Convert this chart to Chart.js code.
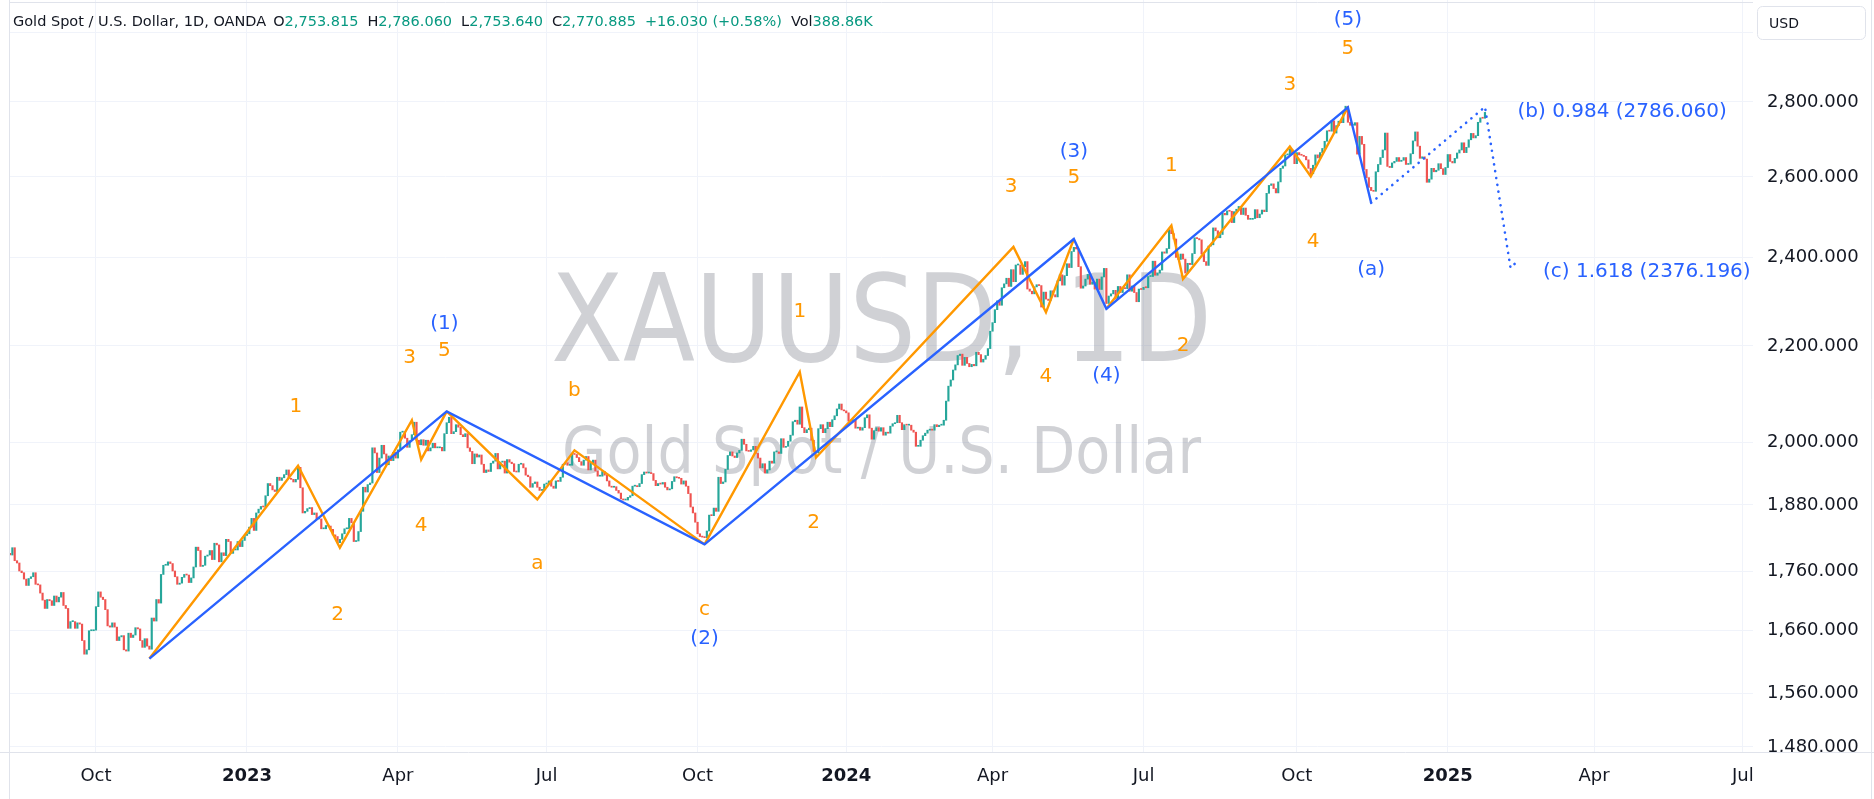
<!DOCTYPE html>
<html>
<head>
<meta charset="utf-8">
<title>Gold Spot / U.S. Dollar, 1D</title>
<script src="https://cdn.jsdelivr.net/npm/chart.js@4.4.1/dist/chart.umd.min.js"></script>
<style>
  html, body { margin: 0; padding: 0; background: #ffffff; }
  #wrap { width: 1874px; height: 799px; }
</style>
</head>
<body>
<div id="wrap"><canvas id="goldChart" width="1874" height="799"></canvas></div>
<script>
// ---- data -------------------------------------------------------------
// daily closes, one inner array per month (trading days only)
const firstDay = '2022-08-08';
const lastCalendarDay = '2025-07-31';
const closedDays = ['2023-04-07', '2024-03-29', '2025-04-18']; // Good Fridays (plus weekends, Dec 25, Jan 1)

const closes2022 = [
  [1789, 1794, 1792, 1789, 1802, 1779, 1775, 1761, 1758, 1747, 1736, 1748, 1751, 1758, 1738, 1737, 1723, 1711],
  [1697, 1712, 1710, 1702, 1718, 1708, 1716, 1724, 1702, 1697, 1664, 1675, 1675, 1664, 1673, 1671, 1644, 1622, 1629, 1660, 1660, 1661],
  [1700, 1725, 1716, 1712, 1695, 1668, 1666, 1673, 1666, 1644, 1650, 1652, 1629, 1627, 1656, 1649, 1653, 1665, 1663, 1644, 1633],
  [1647, 1635, 1630, 1681, 1676, 1712, 1706, 1755, 1771, 1771, 1777, 1774, 1761, 1751, 1738, 1740, 1750, 1755, 1754, 1741, 1749, 1768],
  [1803, 1797, 1769, 1771, 1787, 1789, 1797, 1781, 1810, 1807, 1777, 1793, 1788, 1817, 1813, 1792, 1798, 1798, 1813, 1804, 1815, 1824]
];
const closes2023 = [
  [1827, 1839, 1855, 1833, 1865, 1872, 1877, 1876, 1897, 1920, 1916, 1908, 1905, 1932, 1926, 1931, 1937, 1946, 1930, 1928, 1923, 1928],
  [1951, 1912, 1865, 1868, 1873, 1875, 1862, 1865, 1854, 1854, 1836, 1836, 1842, 1841, 1835, 1825, 1822, 1811, 1817, 1827],
  [1836, 1836, 1855, 1847, 1813, 1814, 1831, 1868, 1913, 1904, 1918, 1921, 1989, 1979, 1941, 1969, 1994, 1977, 1956, 1973, 1964, 1980, 1969],
  [1985, 2020, 2021, 2008, 1990, 2003, 2015, 2040, 2004, 1995, 2005, 1994, 2004, 1983, 1989, 1998, 1989, 1989, 1990],
  [1983, 2017, 2039, 2050, 2017, 2021, 2035, 2030, 2015, 2011, 2017, 1989, 1982, 1958, 1977, 1971, 1975, 1957, 1941, 1946, 1943, 1959, 1963],
  [1978, 1948, 1961, 1963, 1940, 1966, 1961, 1958, 1943, 1942, 1957, 1958, 1950, 1936, 1933, 1913, 1920, 1923, 1913, 1907, 1908, 1919],
  [1921, 1925, 1915, 1911, 1925, 1924, 1932, 1957, 1960, 1955, 1955, 1978, 1976, 1970, 1962, 1955, 1965, 1972, 1946, 1959, 1965],
  [1944, 1934, 1934, 1943, 1936, 1925, 1915, 1913, 1914, 1907, 1902, 1891, 1889, 1889, 1894, 1897, 1915, 1916, 1914, 1920, 1937, 1942, 1940],
  [1940, 1939, 1926, 1916, 1920, 1919, 1922, 1913, 1908, 1910, 1924, 1933, 1931, 1930, 1919, 1925, 1915, 1901, 1876, 1865, 1848],
  [1827, 1822, 1821, 1820, 1832, 1861, 1860, 1874, 1868, 1932, 1920, 1923, 1947, 1974, 1981, 1973, 1970, 1979, 1984, 2006, 1996, 1983],
  [1982, 1985, 1992, 1978, 1969, 1950, 1958, 1940, 1946, 1963, 1959, 1981, 1981, 1978, 2007, 1990, 1992, 2002, 2014, 2041, 2044, 2036],
  [2071, 2029, 2019, 2025, 2028, 2004, 1982, 1979, 2027, 2035, 2019, 2027, 2040, 2031, 2045, 2053, 2067, 2077, 2065, 2063]
];
const closes2024 = [
  [2059, 2042, 2043, 2045, 2028, 2030, 2024, 2029, 2049, 2055, 2028, 2006, 2023, 2029, 2022, 2029, 2014, 2020, 2018, 2032, 2037, 2039],
  [2054, 2039, 2025, 2035, 2034, 2034, 2024, 2020, 1992, 1992, 2004, 2013, 2018, 2024, 2025, 2024, 2035, 2031, 2034, 2034, 2044],
  [2083, 2114, 2127, 2148, 2159, 2179, 2182, 2158, 2175, 2162, 2155, 2160, 2157, 2186, 2181, 2165, 2171, 2179, 2194, 2232],
  [2251, 2280, 2300, 2290, 2330, 2339, 2352, 2333, 2372, 2344, 2383, 2383, 2361, 2379, 2391, 2327, 2322, 2316, 2332, 2337, 2335, 2286],
  [2320, 2304, 2301, 2323, 2314, 2309, 2346, 2360, 2336, 2358, 2386, 2377, 2415, 2425, 2421, 2379, 2329, 2334, 2350, 2361, 2338, 2343, 2327],
  [2350, 2326, 2355, 2375, 2294, 2311, 2316, 2324, 2304, 2333, 2319, 2330, 2328, 2360, 2322, 2334, 2319, 2298, 2327, 2326],
  [2331, 2330, 2356, 2356, 2392, 2359, 2364, 2371, 2414, 2411, 2422, 2468, 2458, 2445, 2401, 2396, 2409, 2397, 2364, 2387, 2384, 2410, 2448],
  [2446, 2443, 2409, 2391, 2382, 2428, 2431, 2472, 2465, 2448, 2456, 2508, 2504, 2514, 2513, 2485, 2512, 2518, 2525, 2505, 2521, 2503],
  [2493, 2493, 2495, 2517, 2497, 2506, 2516, 2512, 2558, 2578, 2582, 2570, 2559, 2587, 2622, 2628, 2657, 2657, 2672, 2658, 2634],
  [2663, 2657, 2656, 2653, 2644, 2622, 2608, 2630, 2657, 2649, 2663, 2674, 2693, 2721, 2720, 2748, 2715, 2735, 2747, 2743, 2774, 2788, 2744],
  [2736, 2736, 2743, 2659, 2706, 2685, 2619, 2598, 2573, 2565, 2563, 2613, 2632, 2650, 2670, 2715, 2627, 2624, 2636, 2640, 2650],
  [2640, 2643, 2650, 2632, 2633, 2660, 2694, 2718, 2680, 2648, 2652, 2646, 2586, 2594, 2622, 2613, 2617, 2634, 2621, 2606, 2624]
];
const closes2025 = [
  [2658, 2640, 2636, 2648, 2662, 2670, 2689, 2663, 2677, 2697, 2714, 2702, 2708, 2744, 2756, 2755, 2771]
];

// Elliott wave pivots: [date, price]
const blueWave = [
  ['2022-11-03', 1615], ['2023-05-03', 2062], ['2023-10-05', 1808], ['2024-05-20', 2445],
  ['2024-06-07', 2282], ['2024-10-31', 2785], ['2024-11-14', 2534]
];
const orangeWave1 = [
  ['2022-11-03', 1615], ['2023-02-01', 1954], ['2023-02-27', 1802], ['2023-04-12', 2044],
  ['2023-04-18', 1966], ['2023-05-03', 2062]
];
const orangeWaveABC = [
  ['2023-05-03', 2062], ['2023-06-27', 1890], ['2023-07-19', 1984], ['2023-10-05', 1808]
];
const orangeWave3 = [
  ['2023-10-05', 1808], ['2023-12-01', 2144], ['2023-12-12', 1970], ['2024-04-12', 2426],
  ['2024-05-02', 2274], ['2024-05-20', 2445]
];
const orangeWave5 = [
  ['2024-06-07', 2282], ['2024-07-17', 2478], ['2024-07-24', 2350], ['2024-09-26', 2679],
  ['2024-10-09', 2601], ['2024-10-31', 2785]
];
const projection = [
  ['2024-11-14', 2534], ['2025-01-24', 2786.06], ['2025-02-10', 2376.196], ['2025-02-13', 2392]
];

// wave labels: [text, date, price, colour]
const waveLabels = [
  ['1', '2023-01-31', 2075, 'orange'], ['2', '2023-02-24', 1690, 'orange'],
  ['3', '2023-04-11', 2177, 'orange'], ['4', '2023-04-18', 1844, 'orange'],
  ['5', '2023-05-02', 2194, 'orange'], ['(1)', '2023-05-02', 2252, 'blue'],
  ['a', '2023-06-27', 1776, 'orange'], ['b', '2023-07-19', 2109, 'orange'],
  ['c', '2023-10-05', 1697, 'orange'], ['(2)', '2023-10-05', 1649, 'blue'],
  ['1', '2023-12-01', 2279, 'orange'], ['2', '2023-12-11', 1851, 'orange'],
  ['3', '2024-04-11', 2578, 'orange'], ['4', '2024-05-02', 2137, 'orange'],
  ['5', '2024-05-20', 2601, 'orange'], ['(3)', '2024-05-20', 2669, 'blue'],
  ['(4)', '2024-06-07', 2140, 'blue'],
  ['1', '2024-07-17', 2634, 'orange'], ['2', '2024-07-24', 2205, 'orange'],
  ['3', '2024-09-26', 2852, 'orange'], ['4', '2024-10-10', 2443, 'orange'],
  ['5', '2024-10-31', 2957, 'orange'], ['(5)', '2024-10-31', 3042, 'blue'],
  ['(a)', '2024-11-14', 2377, 'blue']
];
const fibLabels = [
  ['(b) 0.984 (2786.060)', '2025-02-13', 2778],
  ['(c) 1.618 (2376.196)', '2025-02-28', 2372]
];

const priceTicks = [1480, 1560, 1660, 1760, 1880, 2000, 2200, 2400, 2600, 2800, 3000];
const legendLetters = ['O', 'H', 'L', 'C'];
const legendValues = [2753.815, 2786.060, 2753.640, 2770.885];
const legendChange = '+16.030 (+0.58%)';
const legendVolume = '388.86K';

// ---- calendar ---------------------------------------------------------
const monthNames = ['Jan', 'Feb', 'Mar', 'Apr', 'May', 'Jun', 'Jul', 'Aug', 'Sep', 'Oct', 'Nov', 'Dec'];

function tradingDays(year, month) {
  const out = [];
  const d = new Date(Date.UTC(year, month, 1));
  while (d.getUTCMonth() === month) {
    const key = d.toISOString().slice(0, 10);
    const wd = d.getUTCDay();
    const md = key.slice(5);
    if (wd !== 0 && wd !== 6 && md !== '12-25' && md !== '01-01' && !closedDays.includes(key) && key >= firstDay && key <= lastCalendarDay) {
      out.push(key);
    }
    d.setUTCDate(d.getUTCDate() + 1);
  }
  return out;
}

const months = [];
for (let y = 2022, m = 7; y < 2025 || (y === 2025 && m <= 6); ) {
  months.push({ year: y, month: m, days: tradingDays(y, m) });
  m++; if (m > 11) { m = 0; y++; }
}
const dayIndex = {};
let counter = 0;
months.forEach(mo => mo.days.forEach(day => { dayIndex[day] = counter++; }));

// ---- candles ----------------------------------------------------------
const monthlyCloses = [...closes2022, ...closes2023, ...closes2024, ...closes2025];
const candles = [];
let prevClose = null;
monthlyCloses.forEach((vals, k) => {
  vals.forEach((close, j) => {
    const day = months[k].days[j];
    const open = prevClose === null ? close : prevClose;
    candles.push({ x: dayIndex[day], y: [open, close], up: close >= open });
    prevClose = close;
  });
});

const upColor = '#26a69a';
const downColor = '#ef5350';
const orange = '#ff9800';
const blue = '#2962ff';
const gridColor = '#f0f3fa';
const textColor = '#131722';

const toPoints = arr => arr.map(([d, p]) => ({ x: dayIndex[d], y: p }));

// month ticks (quarters) for the time axis
const xMin = 2.98, xMax = 753.4;
const timeTicks = [];
months.forEach(mo => {
  if (mo.month % 3 === 0 && mo.days.length) {
    const idx = dayIndex[mo.days[0]];
    if (idx >= xMin && idx <= xMax) {
      timeTicks.push({ value: idx, label: mo.month === 0 ? String(mo.year) : monthNames[mo.month], year: mo.month === 0 });
    }
  }
});

// ---- plugins ----------------------------------------------------------
const watermark = {
  id: 'watermark',
  beforeDatasetsDraw(chart) {
    const { ctx, chartArea: a } = chart;
    const cx = (a.left + a.right) / 2;
    const drawFit = (text, size, baseline, width) => {
      ctx.font = size + 'px "DejaVu Sans"';
      const w = ctx.measureText(text).width;
      ctx.save();
      ctx.translate(cx, baseline);
      ctx.scale(width / w, 1);
      ctx.fillText(text, 0, 0);
      ctx.restore();
    };
    ctx.save();
    ctx.fillStyle = 'rgba(120, 123, 134, 0.35)';
    ctx.textAlign = 'center';
    ctx.textBaseline = 'alphabetic';
    drawFit('XAUUSD, 1D', 121, 361, 661);
    drawFit('Gold Spot / U.S. Dollar', 64, 473, 639);
    ctx.restore();
  }
};

const waveText = {
  id: 'waveText',
  afterDatasetsDraw(chart) {
    const { ctx, scales: { x, y } } = chart;
    ctx.save();
    ctx.font = '20px "DejaVu Sans"';
    ctx.textBaseline = 'alphabetic';
    ctx.textAlign = 'center';
    waveLabels.forEach(([text, date, price, tone]) => {
      ctx.fillStyle = tone === 'blue' ? blue : orange;
      ctx.fillText(text, x.getPixelForValue(dayIndex[date]), y.getPixelForValue(price) + 7);
    });
    ctx.textAlign = 'left';
    ctx.fillStyle = blue;
    fibLabels.forEach(([text, date, price]) => {
      ctx.fillText(text, x.getPixelForValue(dayIndex[date]), y.getPixelForValue(price) + 7);
    });
    ctx.restore();
  }
};

const frame = {
  id: 'frame',
  afterDraw(chart) {
    const { ctx, chartArea: a, width, height } = chart;
    ctx.save();
    // time axis labels are clipped by the price scale
    ctx.fillStyle = '#ffffff';
    ctx.fillRect(a.right, a.bottom + 1, width - a.right, height - a.bottom);
    ctx.strokeStyle = '#e0e3eb';
    ctx.lineWidth = 1;
    ctx.beginPath();
    ctx.moveTo(0, a.bottom + 0.5); ctx.lineTo(width, a.bottom + 0.5);
    ctx.moveTo(a.left - 0.5, 0); ctx.lineTo(a.left - 0.5, height);
    ctx.moveTo(width - 2.5, 0); ctx.lineTo(width - 2.5, height);
    ctx.moveTo(a.left, 2.5); ctx.lineTo(a.right, 2.5);
    ctx.stroke();

    // legend line
    ctx.font = '14.5px "DejaVu Sans"';
    ctx.textBaseline = 'alphabetic';
    ctx.textAlign = 'left';
    let lx = 13;
    const seg = (text, color, gap) => {
      ctx.fillStyle = color;
      ctx.fillText(text, lx, 26);
      lx += ctx.measureText(text).width + gap;
    };
    seg('Gold Spot / U.S. Dollar, 1D, OANDA', textColor, 7);
    legendLetters.forEach((letter, i) => {
      seg(letter, textColor, 0);
      seg(legendValues[i].toLocaleString('en-US', { minimumFractionDigits: 3 }), '#089981', 9);
    });
    seg(legendChange, '#089981', 9);
    seg('Vol', textColor, 0);
    seg(legendVolume, '#089981', 0);

    // currency box
    ctx.beginPath();
    ctx.roundRect(1757.5, 6.5, 108, 33, 5);
    ctx.fillStyle = '#ffffff';
    ctx.fill();
    ctx.strokeStyle = '#e0e3eb';
    ctx.stroke();
    ctx.fillStyle = textColor;
    ctx.font = '14px "DejaVu Sans"';
    ctx.fillText('USD', 1769, 28);
    ctx.restore();
  }
};

// ---- chart ------------------------------------------------------------
Chart.defaults.font.family = '"DejaVu Sans", sans-serif';

const lineSet = (pts, color, order) => ({
  type: 'line',
  data: toPoints(pts),
  borderColor: color,
  borderWidth: 2.4,
  pointRadius: 0,
  fill: false,
  tension: 0,
  order: order
});

new Chart(document.getElementById('goldChart'), {
  type: 'bar',
  data: {
    datasets: [
      {
        type: 'bar',
        data: candles.map(c => ({ x: c.x, y: c.y })),
        backgroundColor: candles.map(c => c.up ? upColor : downColor),
        borderWidth: 0,
        barThickness: 1.5,
        minBarLength: 1,
        grouped: false,
        order: 10
      },
      lineSet(orangeWave1, orange, 3),
      lineSet(orangeWaveABC, orange, 3),
      lineSet(orangeWave3, orange, 3),
      lineSet(orangeWave5, orange, 3),
      lineSet(blueWave, blue, 2),
      Object.assign(lineSet(projection, blue, 1), {
        borderWidth: 2.6,
        borderDash: [0.1, 6.8],
        borderCapStyle: 'round'
      })
    ]
  },
  options: {
    responsive: false,
    animation: false,
    devicePixelRatio: 1,
    layout: { padding: { left: 10, top: 0, right: 0, bottom: 0 } },
    plugins: { legend: { display: false }, tooltip: { enabled: false } },
    scales: {
      x: {
        type: 'linear',
        min: xMin,
        max: xMax,
        offset: false,
        afterBuildTicks: s => { s.ticks = timeTicks.map(t => ({ value: t.value })); },
        afterFit: s => { s.height = 47; s.paddingLeft = 0; s.paddingRight = 0; },
        grid: { color: gridColor, drawTicks: false, offset: false },
        border: { display: false },
        ticks: {
          autoSkip: false,
          maxRotation: 0,
          padding: 14,
          color: textColor,
          font: c => ({
            size: 18,
            weight: timeTicks.some(t => t.year && c.tick && t.value === c.tick.value) ? 'bold' : 'normal'
          }),
          callback: v => {
            const t = timeTicks.find(tt => tt.value === v);
            return t ? t.label : '';
          }
        }
      },
      y: {
        type: 'logarithmic',
        position: 'right',
        min: 1472.5,
        max: 3096.6,
        afterBuildTicks: s => { s.ticks = priceTicks.map(v => ({ value: v })); },
        afterFit: s => { s.width = 121; s.paddingTop = 0; s.paddingBottom = 0; },
        grid: { color: gridColor, drawTicks: false },
        border: { display: false },
        ticks: {
          padding: 14,
          color: textColor,
          font: { size: 18 },
          callback: v => v === 3000 ? '' : Number(v).toLocaleString('en-US', { minimumFractionDigits: 3, maximumFractionDigits: 3 })
        }
      }
    }
  },
  plugins: [watermark, waveText, frame]
});
</script>
</body>
</html>
